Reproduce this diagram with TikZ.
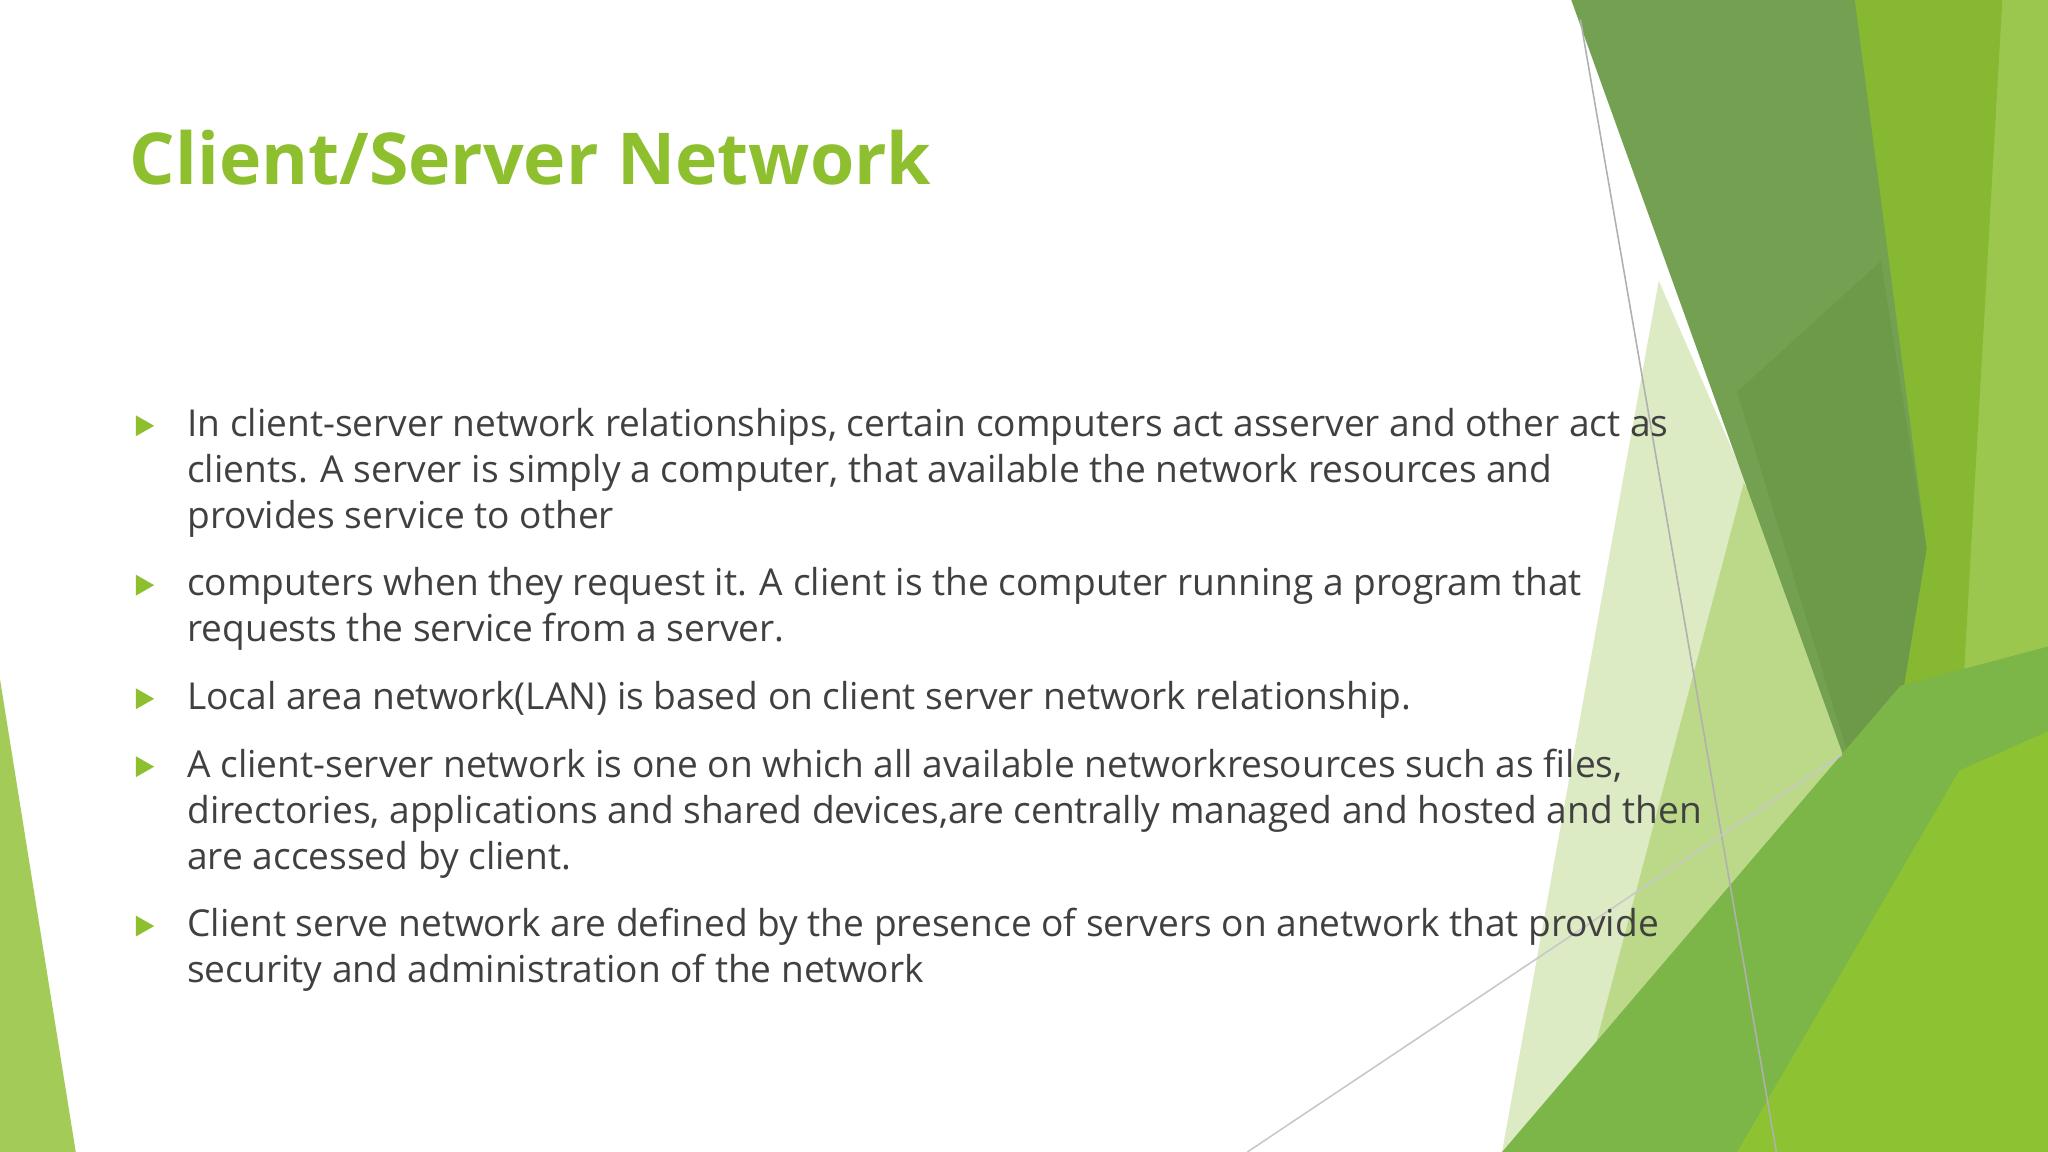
\documentclass[tikz,border=0pt]{standalone}
\usepackage{fontspec}
\setmainfont{Open Sans}
\definecolor{titlegreen}{HTML}{8DBF2E}
\definecolor{bulletgreen}{HTML}{8DBF2E}
\definecolor{bodygray}{HTML}{404040}
\definecolor{cA}{HTML}{9CC74F}
\definecolor{cB}{HTML}{86B832}
\definecolor{cC}{HTML}{DDEBC4}
\definecolor{cD}{HTML}{BCD98A}
\definecolor{cE}{HTML}{74A052}
\definecolor{cF}{HTML}{6C9A48}
\definecolor{cG}{HTML}{7CB548}
\definecolor{cH}{HTML}{8DC232}
\definecolor{cL1}{HTML}{B0B0B0}
\definecolor{cL2}{HTML}{C8C8C8}
\begin{document}
\begin{tikzpicture}[x=0.5pt,y=-0.5pt,
  body/.style={anchor=north west,align=left,font=\fontsize{14.2}{17.6}\selectfont,text=bodygray,inner sep=0pt}]
\useasboundingbox (0,0) rectangle (1568,882);
\fill[white] (0,0) rectangle (1568,882);
% decorative shapes
\fill[cA] (1530,0) -- (1568,0) -- (1568,882) -- (1450,882) -- cycle;
\fill[cB] (1408,0) -- (1533,0) -- (1500,580) -- (1437,650) -- cycle;
\fill[cC] (1270,215) -- (1420,560) -- (1210,882) -- (1150,882) -- cycle;
\fill[cD] (1335,370) -- (1455,525) -- (1300,882) -- (1200,882) -- cycle;
\fill[cE] (1203,0) -- (1420,0) -- (1475,420) -- (1437,650) -- cycle;
\fill[cF] (1330,300) -- (1440,200) -- (1475,420) -- (1437,650) -- cycle;
\fill[cG] (1150,882) -- (1455,525) -- (1568,495) -- (1568,882) -- cycle;
\fill[cH] (1330,882) -- (1500,590) -- (1568,560) -- (1568,882) -- cycle;
\fill[titlegreen,opacity=0.8] (0,520) -- (0,882) -- (58,882) -- cycle;
\draw[cL1,line width=0.6pt] (1210,15) -- (1360,882);
\draw[cL2,line width=0.6pt] (955,882) -- (1410,578);
% title
\node[anchor=west,inner sep=0pt,text=titlegreen,font=\fontsize{27.4}{34}\selectfont\bfseries] (title) at (99,121) {Client/Server Network};
% bullets
\foreach \y in {326,448,535,587,709}{
  \fill[bulletgreen] (104,\y-8) -- (118,\y) -- (104,\y+8) -- cycle;}
\node[body] (t1) at (143,312) {In client-server network relationships, certain computers act asserver and other act as\\clients. A server is simply a computer, that available the network resources and\\provides service to other};
\node[body] (t2) at (143,434) {computers when they request it. A client is the computer running a program that\\requests the service from a server.};
\node[body] (t3) at (143,521) {Local area network(LAN) is based on client server network relationship.};
\node[body] (t4) at (143,573) {A client-server network is one on which all available networkresources such as files,\\directories, applications and shared devices,are centrally managed and hosted and then\\are accessed by client.};
\node[body] (t5) at (143,695) {Client serve network are defined by the presence of servers on anetwork that provide\\security and administration of the network};
\end{tikzpicture}
\end{document}
